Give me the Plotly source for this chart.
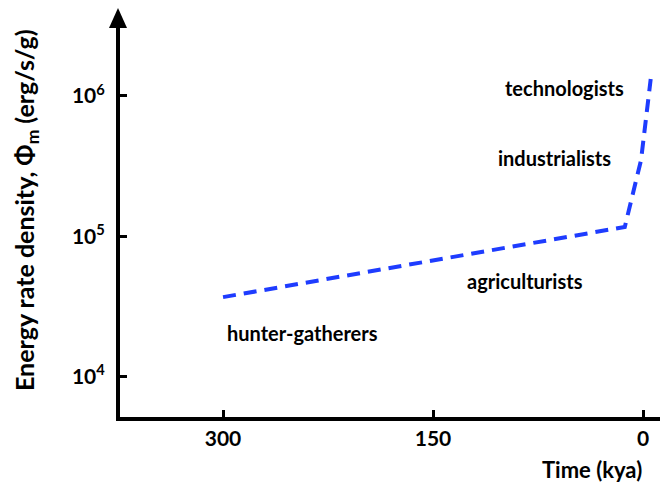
import math
import plotly.graph_objects as go

# time before present (kya) and energy rate density (erg/s/g)
time_kya = [300, 13, 1.4, -5.5]
phi_m = [3.7e4, 1.17e5, 3.5e5, 1.32e6]

stage_labels = ['technologists', 'industrialists', 'agriculturists', 'hunter-gatherers']
stage_x = [56, 63, 84, 243]
stage_y = [1.14e6, 3.6e5, 4.8e4, 2.05e4]

x_ticks = [300, 150, 0]
y_ticks = [1e4, 1e5, 1e6]
y_ticktext = ['10<sup>4</sup>', '10<sup>5</sup>', '10<sup>6</sup>']

FONT = 'Lato'
# page has an 8px body margin, so the figure is a bit smaller than the window
W, H = 660, 483
ML, MR, MT, MB = 112, 8, 20, 74
PW, PH = W - ML - MR, H - MT - MB
LEFT, BOTTOM = 120, 417  # plot area edges in window pixels


def to_paper(x, y):
    return (x - LEFT) / PW, (BOTTOM - y) / PH


fig = go.Figure()

fig.add_trace(go.Scatter(
    x=time_kya,
    y=phi_m,
    mode='lines',
    line=dict(color='#1e3cff', width=4, dash='13px,8px'),
    showlegend=False,
    hoverinfo='skip'
))

for label, xv, yv in zip(stage_labels, stage_x, stage_y):
    fig.add_annotation(
        x=xv, y=math.log10(yv), text=label, showarrow=False,
        font=dict(family=FONT, size=20, color='black', weight='bold')
    )

# axis titles
tx, ty = to_paper(26, 210)
fig.add_annotation(
    xref='paper', yref='paper', x=tx, y=ty, xanchor='center', yanchor='middle',
    text='Energy rate density, \u03a6<sub>m</sub> (erg/s/g)', textangle=-90,
    showarrow=False, font=dict(family=FONT, size=25, color='black', weight='bold')
)
tx, ty = to_paper(592, 470)
fig.add_annotation(
    xref='paper', yref='paper', x=tx, y=ty, xanchor='center', yanchor='middle',
    text='Time (kya)', showarrow=False,
    font=dict(family=FONT, size=22, color='black', weight='bold')
)

# arrowheads on the axes (axis lines sit 2px outside the plot area)
cx = -2 / PW
cy = -2 / PH
fig.add_shape(
    type='path', xref='paper', yref='paper',
    path=f'M {cx - 9 / PW},1 L {cx + 9 / PW},1 L {cx},{1 + 20 / PH} Z',
    fillcolor='black', line=dict(width=0)
)
fig.add_shape(
    type='path', xref='paper', yref='paper',
    path=f'M 1,{cy - 8 / PH} L 1,{cy + 8 / PH} L {1 + 9 / PW},{cy} Z',
    fillcolor='black', line=dict(width=0)
)

fig.update_xaxes(
    range=[373.6, -12.14],
    tickvals=x_ticks, ticktext=[str(v) for v in x_ticks],
    ticks='inside', ticklen=7, tickwidth=3, tickcolor='black',
    showline=True, linewidth=4, linecolor='black',
    showgrid=False, zeroline=False,
    tickfont=dict(family=FONT, size=21, color='black', weight='bold')
)
fig.update_yaxes(
    type='log', range=[3.715, 6.484],
    tickvals=y_ticks, ticktext=y_ticktext,
    ticks='inside', ticklen=7, tickwidth=3, tickcolor='black',
    showline=True, linewidth=4, linecolor='black',
    showgrid=False, zeroline=False, ticklabelstandoff=7,
    tickfont=dict(family=FONT, size=21, color='black', weight='bold')
)

fig.update_layout(
    width=W, height=H,
    margin=dict(l=ML, r=MR, t=MT, b=MB),
    plot_bgcolor='white', paper_bgcolor='white'
)

fig.write_html('out.html')
